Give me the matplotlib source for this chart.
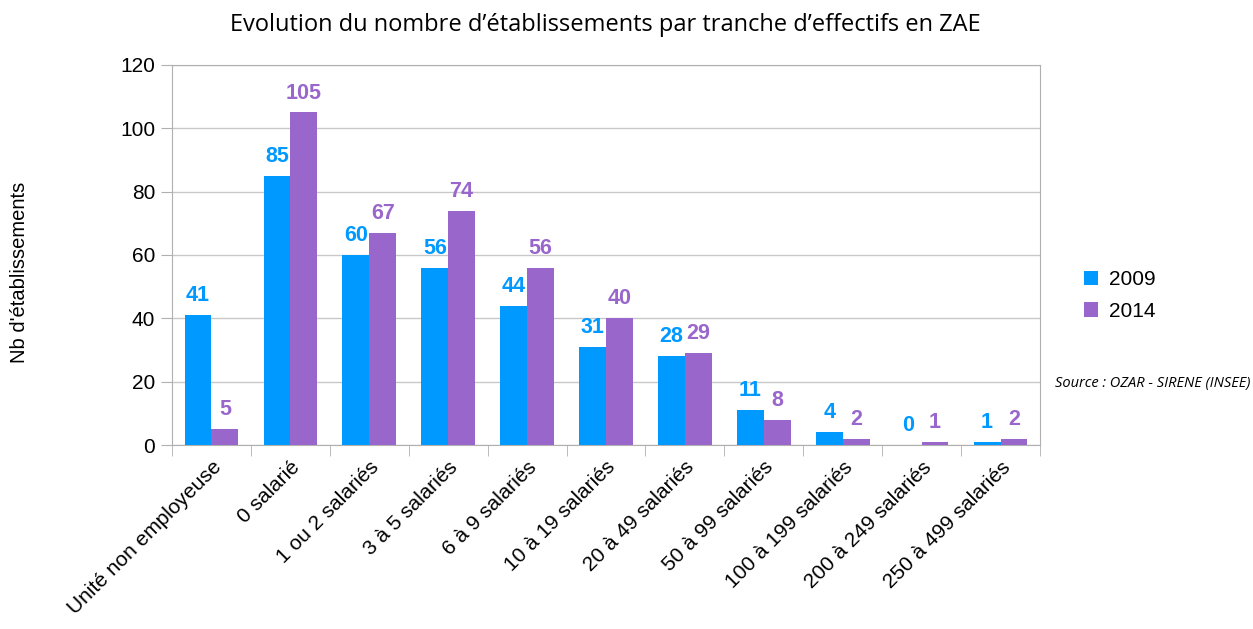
import matplotlib.pyplot as plt
import numpy as np

categories = ["Unité non employeuse", "0 salarié", "1 ou 2 salariés", "3 à 5 salariés",
              "6 à 9 salariés", "10 à 19 salariés", "20 à 49 salariés", "50 à 99 salariés",
              "100 à 199 salariés", "200 à 249 salariés", "250 à 499 salariés"]
vals_2009 = [41, 85, 60, 56, 44, 31, 28, 11, 4, 0, 1]
vals_2014 = [5, 105, 67, 74, 56, 40, 29, 8, 2, 1, 2]

blue = "#0099FF"
purple = "#9966CC"

plt.rcParams['font.family'] = ['Liberation Sans', 'DejaVu Sans']

fig = plt.figure(figsize=(12.53, 6.29), dpi=100)
ax = fig.add_axes([0.1373, 0.2925, 0.6927, 0.6042])

x = np.arange(len(categories))
w = 0.34
ax.bar(x - w / 2, vals_2009, width=w, color=blue, label="2009", zorder=3)
ax.bar(x + w / 2, vals_2014, width=w, color=purple, label="2014", zorder=3)

for i in range(len(categories)):
    ax.annotate(str(vals_2009[i]), (x[i] - w / 2, vals_2009[i]), xytext=(0, 14),
                textcoords="offset points", ha="center", va="center",
                fontsize=15.5, fontweight="bold", color=blue)
    ax.annotate(str(vals_2014[i]), (x[i] + w / 2, vals_2014[i]), xytext=(0, 14),
                textcoords="offset points", ha="center", va="center",
                fontsize=15.5, fontweight="bold", color=purple)

ax.set_xlim(-0.5, len(categories) - 0.5)
ax.set_ylim(0, 120)
ax.set_yticks(range(0, 121, 20))
ax.grid(axis='y', color='#c8c8c8', linewidth=1, zorder=0)
ax.tick_params(axis='y', labelsize=15, length=8, color='#b0b0b0', pad=4)

ax.set_xticks(x)
ax.set_xticklabels(categories, rotation=45, ha="right", rotation_mode="anchor", fontsize=15)
ax.tick_params(axis='x', length=0, pad=9)
ax.set_xticks(np.arange(-0.5, len(categories), 1), minor=True)
ax.tick_params(axis='x', which='minor', length=8, color='#b0b0b0')

for side in ["top", "right", "left", "bottom"]:
    ax.spines[side].set_color('#b0b0b0')

ax.set_ylabel("Nb d'établissements", fontsize=14.5)
ax.yaxis.set_label_coords(-0.165, 0.455)

fig.text(0.483, 0.96, "Evolution du nombre d’établissements par tranche d’effectifs en ZAE",
         ha="center", va="center", fontsize=17, family=["Open Sans", "DejaVu Sans"])

fig.legend(loc="upper left", bbox_to_anchor=(0.85, 0.6), frameon=False, fontsize=15,
           handlelength=0.7, handleheight=0.7, handletextpad=0.5, labelspacing=0.6)

fig.text(0.998, 0.39, "Source : OZAR - SIRENE (INSEE)", ha="right", va="center",
         fontsize=10.5, style="italic", family=["Open Sans", "DejaVu Sans"])

fig.savefig("out.png", dpi=100)
